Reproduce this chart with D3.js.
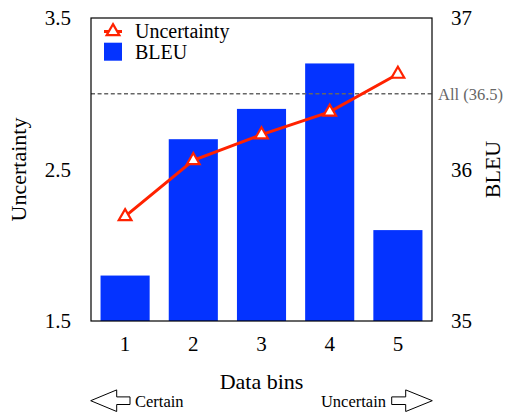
<!DOCTYPE html>
<html><head><meta charset="utf-8">
<script src="https://cdn.jsdelivr.net/npm/d3@7"></script>
<style>body{margin:0;background:#fff}svg{display:block}</style>
</head><body><svg id="c" width="507" height="412" font-family="Liberation Serif"></svg>
<script>
const bins = ["1","2","3","4","5"];
const bleu = [35.3, 36.2, 36.4, 36.7, 35.6];
const uncertainty = [2.19, 2.56, 2.73, 2.88, 3.13];
const leftTicks = [1.5, 2.5, 3.5];
const rightTicks = [35, 36, 37];
const allBleu = 36.5;

const svg = d3.select("#c");
const L = 91, R = 432, T = 18, B = 321;
const x = d3.scaleBand().domain(bins).range([L, R]).paddingInner(0.28).paddingOuter(0.14);
const yL = d3.scaleLinear().domain([1.5, 3.5]).range([B, T]);
const yR = d3.scaleLinear().domain([35, 37]).range([B, T]);
const blue = "#0433ff", red = "#ff2200";

svg.append("g").selectAll("rect").data(bins).join("rect")
  .attr("x", d => x(d)).attr("width", x.bandwidth())
  .attr("y", (d,i) => yR(bleu[i])).attr("height", (d,i) => B - yR(bleu[i]))
  .attr("fill", blue);

svg.append("line").attr("x1", L).attr("x2", R).attr("y1", yR(allBleu)).attr("y2", yR(allBleu))
  .attr("stroke", "#666").attr("stroke-width", 1.6).attr("stroke-dasharray", "4,2.6");
svg.append("text").attr("x", 438).attr("y", yR(allBleu) + 6).attr("fill", "#666")
  .attr("font-size", 16.5).text("All (36.5)");

const line = d3.line().x((d,i) => x(bins[i]) + x.bandwidth()/2).y(d => yL(d));
svg.append("path").datum(uncertainty).attr("d", line).attr("fill", "none")
  .attr("stroke", red).attr("stroke-width", 3);
const tri = d3.symbol().type(d3.symbolTriangle).size(70);
svg.append("g").selectAll("path").data(uncertainty).join("path")
  .attr("d", tri).attr("transform", (d,i) => `translate(${x(bins[i]) + x.bandwidth()/2},${yL(d)})`)
  .attr("fill", "#fff").attr("stroke", red).attr("stroke-width", 2.2);

// frame
svg.append("rect").attr("x", L).attr("y", T).attr("width", R - L).attr("height", B - T)
  .attr("fill", "none").attr("stroke", "#000").attr("stroke-width", 1.2);

// axes
const axL = d3.axisLeft(yL).tickValues(leftTicks).tickFormat(d3.format(".1f")).tickSize(0).tickPadding(20);
const gL = svg.append("g").attr("transform", `translate(${L},0)`).call(axL);
const axR = d3.axisRight(yR).tickValues(rightTicks).tickFormat(d3.format("d")).tickSize(0).tickPadding(19);
const gR = svg.append("g").attr("transform", `translate(${R},0)`).call(axR);
const axB = d3.axisBottom(x).tickSize(0).tickPadding(15);
const gB = svg.append("g").attr("transform", `translate(0,${B})`).call(axB);
[gL, gR, gB].forEach(g => {
  g.select(".domain").remove();
  g.attr("font-family", "Liberation Serif").attr("font-size", 21);
  g.selectAll("text").attr("font-size", 21).attr("fill", "#000");
});

svg.append("text").attr("transform", `translate(26,${(T+B)/2}) rotate(-90)`).attr("text-anchor", "middle")
  .attr("font-size", 22).text("Uncertainty");
svg.append("text").attr("transform", `translate(500,${(T+B)/2}) rotate(-90)`).attr("text-anchor", "middle")
  .attr("font-size", 22).text("BLEU");
svg.append("text").attr("x", (L+R)/2).attr("y", 389).attr("text-anchor", "middle")
  .attr("font-size", 22).text("Data bins");

// legend
svg.append("line").attr("x1", 104).attr("x2", 122).attr("y1", 31.5).attr("y2", 31.5).attr("stroke", red).attr("stroke-width", 3);
svg.append("path").attr("d", tri).attr("transform", "translate(113,31.5)").attr("fill", "#fff").attr("stroke", red).attr("stroke-width", 2.2);
svg.append("text").attr("x", 135).attr("y", 37.5).attr("font-size", 20).text("Uncertainty");
svg.append("rect").attr("x", 104).attr("y", 42.7).attr("width", 18).attr("height", 18).attr("fill", blue);
svg.append("text").attr("x", 135).attr("y", 59.3).attr("font-size", 20).text("BLEU");

// arrows
const ay = 400.7;
const leftArrow = [[90.7,ay],[116.7,ay-10.8],[116.7,ay-3.8],[130,ay-3.8],[130,ay+3.8],[116.7,ay+3.8],[116.7,ay+10.8]];
const rightArrow = [[432.3,ay],[405.7,ay-10.8],[405.7,ay-3.8],[391.7,ay-3.8],[391.7,ay+3.8],[405.7,ay+3.8],[405.7,ay+10.8]];
[leftArrow, rightArrow].forEach(p => svg.append("path").attr("d", d3.line()(p) + "Z")
  .attr("fill", "#fff").attr("stroke", "#000").attr("stroke-width", 1));
svg.append("text").attr("x", 135).attr("y", 407).attr("font-size", 16.5).text("Certain");
svg.append("text").attr("x", 386).attr("y", 407).attr("text-anchor", "end").attr("font-size", 16.5).text("Uncertain");

svg.selectAll("text").attr("font-family", "Liberation Serif").style("font-family", "'Liberation Serif'");
</script></body></html>
